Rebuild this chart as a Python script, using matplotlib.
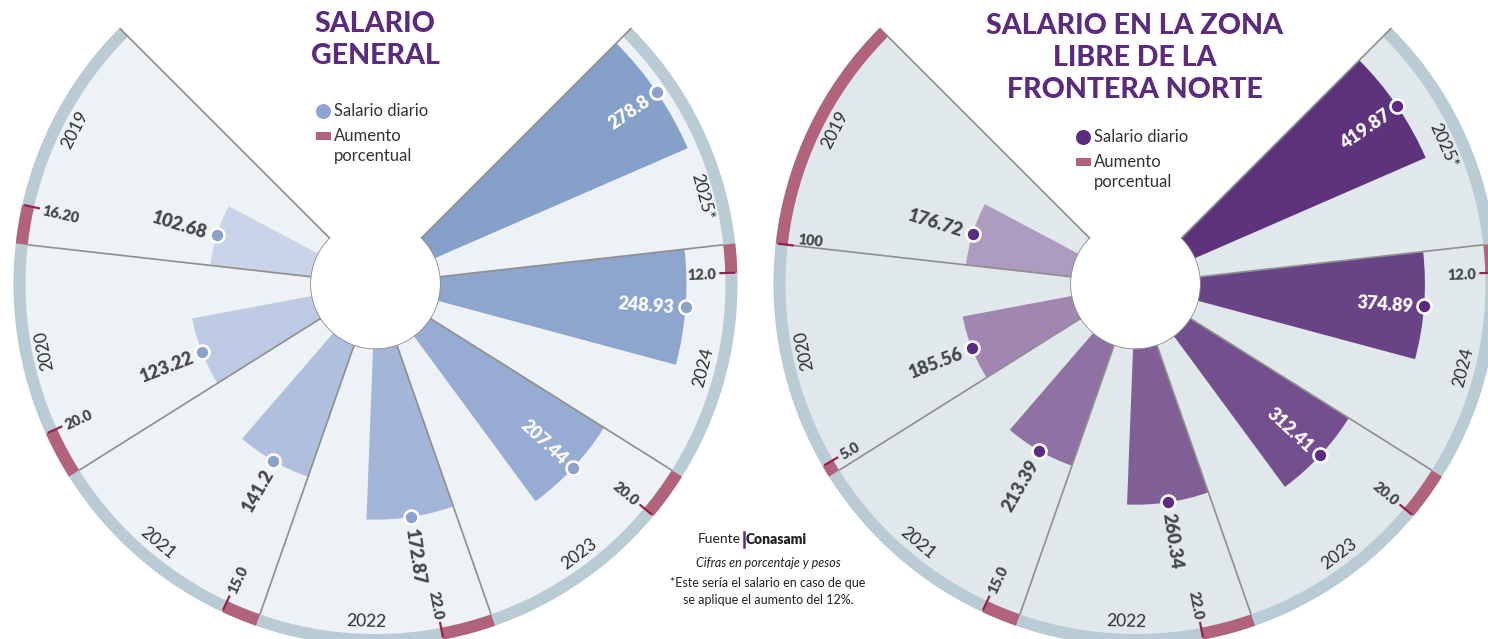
import numpy as np
import matplotlib
matplotlib.use("Agg")
import matplotlib.pyplot as plt
from matplotlib.patches import Rectangle

# ---------------- data ----------------
years = ["2019", "2020", "2021", "2022", "2023", "2024", "2025*"]
general_daily = [102.68, 123.22, 141.2, 172.87, 207.44, 248.93, 278.8]
general_value_labels = ["102.68", "123.22", "141.2", "172.87", "207.44", "248.93", "278.8"]
general_increase = [16.20, 20.0, 15.0, 22.0, 20.0, 12.0, None]
general_increase_labels = ["16.20", "20.0", "15.0", "22.0", "20.0", "12.0", ""]

border_daily = [176.72, 185.56, 213.39, 260.34, 312.41, 374.89, 419.87]
border_value_labels = ["176.72", "185.56", "213.39", "260.34", "312.41", "374.89", "419.87"]
border_increase = [100.0, 5.0, 15.0, 22.0, 20.0, 12.0, None]
border_increase_labels = ["100", "5.0", "15.0", "22.0", "20.0", "12.0", ""]

general_title = ["SALARIO", "GENERAL"]
border_title = ["SALARIO EN LA ZONA", "LIBRE DE LA", "FRONTERA NORTE"]
legend_labels = ["Salario diario", "Aumento", "porcentual"]
source_lines = ["Cifras en porcentaje y pesos",
                "*Este sería el salario en caso de que",
                "se aplique el aumento del 12%."]

# ---------------- style ----------------
W, H, DPI = 1488, 639, 100
FONT = "Lato"
FONT_HEAVY = ["Lato Heavy", "Lato"]
FONT_BLACK = ["Lato Black", "Lato"]
PURPLE = "#5b2c7d"
RED = "#b0637a"
TICK = "#97204f"
RIM = "#b9cbd4"
LINE = "#8f8f8f"
TXT = "#474747"

general_bar_colors = ["#c9d4e8", "#bccae3", "#afc0de", "#a3b6d8", "#97acd2", "#8ea5cd", "#85a0c9"]
border_bar_colors = ["#ae9bc0", "#a086b0", "#9071a3", "#805f97", "#73508d", "#684386", "#5d337b"]

HOLE_PX = 64.5
RIM_IN_PX = 350
RIM_OUT_PX = 362
AX_R_PX = 380
START, SPAN = 135.0, 270.0
BAR_FRAC = 0.557
YEAR_R_PX = 338

fig = plt.figure(figsize=(W / DPI, H / DPI), dpi=DPI)
fig.patch.set_facecolor("white")


def pt(px):
    return px * 72 / DPI


def rad(d):
    return np.deg2rad(d)


def radial_text(ax, ang, r, s, extend, **kw):
    a = ang % 360
    if 90 < a < 270:
        rot = a - 180
        outward = False
    else:
        rot = a if a < 180 else a - 360
        outward = True
    if extend == "out":
        ha = "left" if outward else "right"
    else:
        ha = "right" if outward else "left"
    va = kw.pop("va", "center_baseline")
    ax.text(rad(ang), r, s, rotation=rot, rotation_mode="anchor",
            ha=ha, va=va, **kw)


def draw_chart(cx, cy, ppu, daily, value_labels, increase, increase_labels,
               bar_colors, bg, dot_color):
    ax = fig.add_axes([(cx - AX_R_PX) / W, 1 - (cy + AX_R_PX) / H,
                       2 * AX_R_PX / W, 2 * AX_R_PX / H], projection="polar")
    ax.set_facecolor("none")
    ax.axis("off")
    hole = HOLE_PX / ppu
    ax.set_rorigin(-hole)

    def rpx(px):
        return px / ppu - hole

    n = len(daily)
    w = SPAN / n
    lo = START + np.arange(n) * w
    hi = lo + w
    bw = BAR_FRAC * w
    th_bar = hi - bw / 2

    # sector backgrounds
    ax.bar(rad(lo + w / 2), rpx(RIM_OUT_PX), width=rad(w), bottom=0,
           color=bg, linewidth=0, zorder=0.5)
    # outer rim
    ax.bar(rad(START + SPAN / 2), (RIM_OUT_PX - RIM_IN_PX) / ppu, width=rad(SPAN),
           bottom=rpx(RIM_IN_PX), color=RIM, linewidth=0, zorder=1)
    # salary bars
    ax.bar(rad(th_bar), daily, width=rad(bw), bottom=0,
           color=bar_colors, linewidth=0, zorder=2)

    # sector boundaries
    bounds = np.append(lo, hi[-1])
    for j, b in enumerate(bounds):
        outer = RIM_OUT_PX if j in (0, n) else RIM_IN_PX
        ax.plot([rad(b)] * 2, [0, rpx(outer)], color=LINE, lw=pt(1.7),
                solid_capstyle="butt", zorder=2.5)
    # inner circle outline
    th = np.linspace(rad(START), rad(START + SPAN), 300)
    ax.plot(th, np.zeros_like(th), color=LINE, lw=pt(1.7), zorder=2.5)

    # percentage increase arcs, ticks and labels
    for i in range(n):
        if increase[i] is None:
            continue
        frac = min(increase[i], 100.0) / 100.0
        a0 = hi[i] - frac * w
        ax.bar(rad((a0 + hi[i]) / 2), (RIM_OUT_PX - RIM_IN_PX) / ppu,
               width=rad(hi[i] - a0), bottom=rpx(RIM_IN_PX),
               color=RED, linewidth=0, zorder=3)
        t = a0 if frac < 1 else hi[i]
        ax.plot([rad(t)] * 2, [rpx(RIM_IN_PX - 6), rpx(RIM_OUT_PX - 2)],
                color=TICK, lw=pt(2.2), solid_capstyle="butt", zorder=4)
        extra = {"va": "bottom"} if frac >= 1 else {}
        radial_text(ax, t, rpx(RIM_IN_PX - 9), increase_labels[i], "in",
                    family=FONT_HEAVY, color=TXT, fontsize=10.5,
                    fontweight="heavy", zorder=6, **extra)

    # dots
    ax.plot(rad(th_bar), daily, linestyle="none", marker="o", ms=pt(14),
            mfc=dot_color, mec="white", mew=pt(2.6), zorder=5)

    # value labels
    for i in range(n):
        inside = daily[i] * ppu > 180
        if inside:
            radial_text(ax, th_bar[i], daily[i] - 11 / ppu, value_labels[i], "in",
                        family=FONT_HEAVY, color="white", fontsize=13,
                        fontweight="heavy", zorder=6)
        else:
            radial_text(ax, th_bar[i], daily[i] + 11 / ppu, value_labels[i], "out",
                        family=FONT_HEAVY, color=TXT, fontsize=13,
                        fontweight="heavy", zorder=6)

    # year labels
    for i in range(n):
        bar_outer_px = HOLE_PX + daily[i] * ppu
        if bar_outer_px > YEAR_R_PX - 20:
            ang = (lo[i] + hi[i] - bw) / 2
        else:
            ang = (lo[i] + hi[i]) / 2 - 1.5
        a = ang % 360
        rot = a - 90 if a < 210 else a + 90
        ax.text(rad(ang), rpx(YEAR_R_PX), years[i], rotation=rot,
                rotation_mode="anchor", ha="center", va="center",
                family=FONT, fontsize=12.5, color="#2e2e2e", zorder=6)

    ax.set_ylim(0, rpx(AX_R_PX))
    return ax


draw_chart(375.5, 284, 0.99, general_daily, general_value_labels,
           general_increase, general_increase_labels,
           general_bar_colors, "#eef2f6", "#8aa2cc")
draw_chart(1135.5, 284, 0.60, border_daily, border_value_labels,
           border_increase, border_increase_labels,
           border_bar_colors, "#e1e8ec", "#5b2c7d")

# ---------------- overlay: titles, legends, source ----------------
ov = fig.add_axes([0, 0, 1, 1])
ov.set_xlim(0, W)
ov.set_ylim(H, 0)
ov.axis("off")
ov.set_facecolor("none")

for k, line in enumerate(general_title):
    ov.text(375, 24 + 32 * k, line, ha="center", va="center", family=FONT_BLACK,
            fontsize=20.5, fontweight="black", color=PURPLE)
for k, line in enumerate(border_title):
    ov.text(1135, 26 + 32 * k, line, ha="center", va="center", family=FONT_BLACK,
            fontsize=20.5, fontweight="black", color=PURPLE)


def legend(x, y, dot_color):
    ov.plot(x, y, marker="o", ms=pt(15), mfc=dot_color, mec="none", linestyle="none")
    ov.add_patch(Rectangle((x - 7.5, y + 21), 15, 8, color=RED, lw=0))
    ov.text(x + 11, y, legend_labels[0], ha="left", va="center",
            family=FONT, fontsize=12, color="#333333")
    ov.text(x + 11, y + 25, legend_labels[1], ha="left", va="center",
            family=FONT, fontsize=12, color="#333333")
    ov.text(x + 11, y + 45, legend_labels[2], ha="left", va="center",
            family=FONT, fontsize=12, color="#333333")


legend(323, 111, "#8ea5cf")
legend(1083, 137, "#5b2c7d")

ov.text(741, 539, "Fuente", ha="right", va="center", family=FONT,
        fontsize=10, color="#222222")
ov.plot([743.5, 743.5], [532, 547], color=PURPLE, lw=pt(2.5))
ov.text(746, 539, "Conasami", ha="left", va="center", family=FONT_HEAVY,
        fontsize=10, fontweight="heavy", color="#222222")
ov.text(768, 563, source_lines[0], ha="center", va="center", family=FONT,
        fontsize=9, style="italic", color="#222222")
ov.text(768, 583, source_lines[1], ha="center", va="center", family=FONT,
        fontsize=9, color="#222222")
ov.text(768, 600, source_lines[2], ha="center", va="center", family=FONT,
        fontsize=9, color="#222222")

fig.savefig("out.png", dpi=DPI, facecolor="white")
